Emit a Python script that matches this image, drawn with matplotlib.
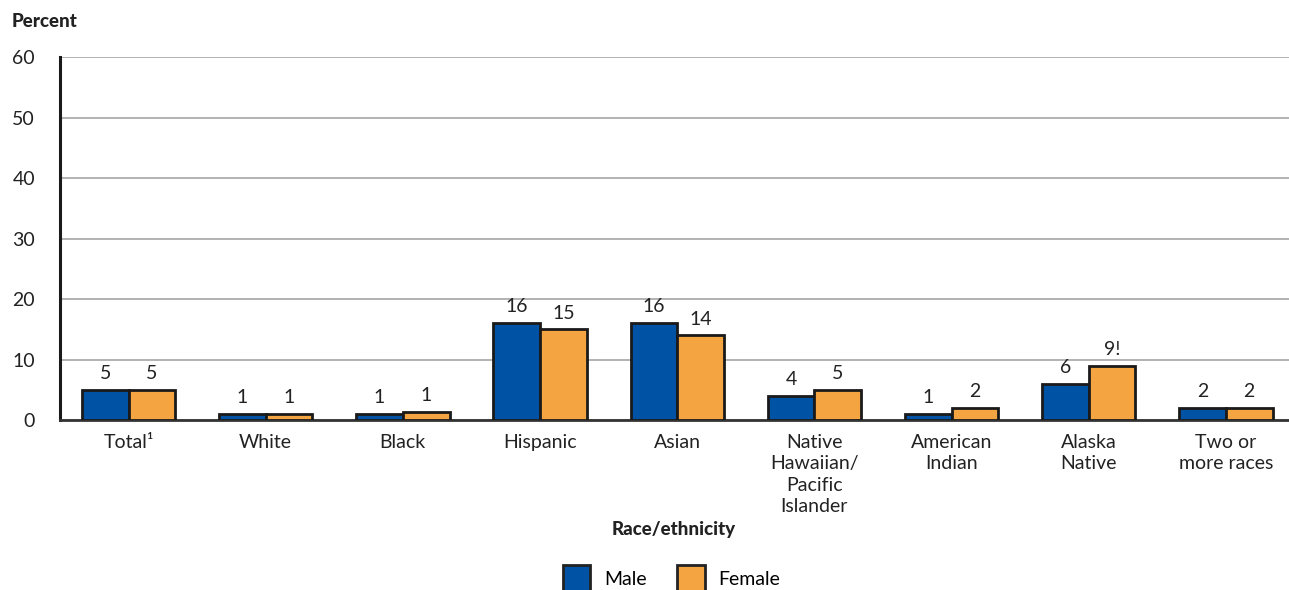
import matplotlib
matplotlib.use("Agg")
from matplotlib import pyplot as plt
from matplotlib.patches import Patch
import numpy as np

categories = ["Total\u00b9", "White", "Black", "Hispanic", "Asian",
              "Native\nHawaiian/\nPacific\nIslander", "American\nIndian",
              "Alaska\nNative", "Two or\nmore races"]
male = [5, 1, 1, 16, 16, 4, 1, 6, 2]
female = [5, 1, 1.3, 15, 14, 5, 2, 9, 2]
male_labels = ["5", "1", "1", "16", "16", "4", "1", "6", "2"]
female_labels = ["5", "1", "1", "15", "14", "5", "2", "9!", "2"]
yticks = [0, 10, 20, 30, 40, 50, 60]

blue = "#0053a4"
orange = "#f4a441"
font = "Lato"

fig = plt.figure(figsize=(12.89, 5.9), dpi=100)
ax = fig.add_axes([0.0465, 0.288, 0.9535, 0.615])

x = np.arange(len(categories))
w = 0.34
ax.bar(x - w / 2, male, width=w, color=blue, edgecolor="#1a1a1a", linewidth=2, zorder=3)
ax.bar(x + w / 2, female, width=w, color=orange, edgecolor="#1a1a1a", linewidth=2, zorder=3)

for i in range(len(categories)):
    ax.text(x[i] - w / 2, male[i] + 1.3, male_labels[i], ha="center", va="bottom",
            fontsize=14, family=font, color="#222222")
    ax.text(x[i] + w / 2, female[i] + 1.3, female_labels[i], ha="center", va="bottom",
            fontsize=14, family=font, color="#222222")

ax.set_xlim(-0.5, len(categories) - 0.54)
ax.set_ylim(0, 60)
ax.set_yticks(yticks)
ax.set_yticklabels([str(t) for t in yticks], family=font, fontsize=14)
ax.set_xticks(x)
ax.set_xticklabels(categories, family=font, fontsize=14, linespacing=1.32, va="top")
ax.tick_params(axis="both", length=0, colors="#222222")
ax.tick_params(axis="x", pad=10)
ax.tick_params(axis="y", pad=18)

ax.yaxis.grid(True, color="#a6a6a6", linewidth=1.2, zorder=0)
for s in ["top", "right"]:
    ax.spines[s].set_visible(False)
ax.spines["left"].set_linewidth(2.2)
ax.spines["left"].set_color("#1a1a1a")
ax.spines["bottom"].set_linewidth(2)
ax.spines["bottom"].set_color("#333333")

fig.text(0.009, 0.955, "Percent", family=font, fontweight="black", fontsize=13.5, color="#222222")
fig.text(0.523, 0.094, "Race/ethnicity", ha="center", family=font, fontweight="black",
         fontsize=13.5, color="#222222")

handles = [Patch(facecolor=blue, edgecolor="#222222", linewidth=2, label="Male"),
           Patch(facecolor=orange, edgecolor="#222222", linewidth=2, label="Female")]
fig.legend(handles=handles, loc="center", bbox_to_anchor=(0.521, 0.02), ncol=2, frameon=False,
           prop={"family": font, "size": 14}, handlelength=1.4, handleheight=1.7,
           columnspacing=1.6, handletextpad=0.7)

fig.savefig("out.png", dpi=100)
